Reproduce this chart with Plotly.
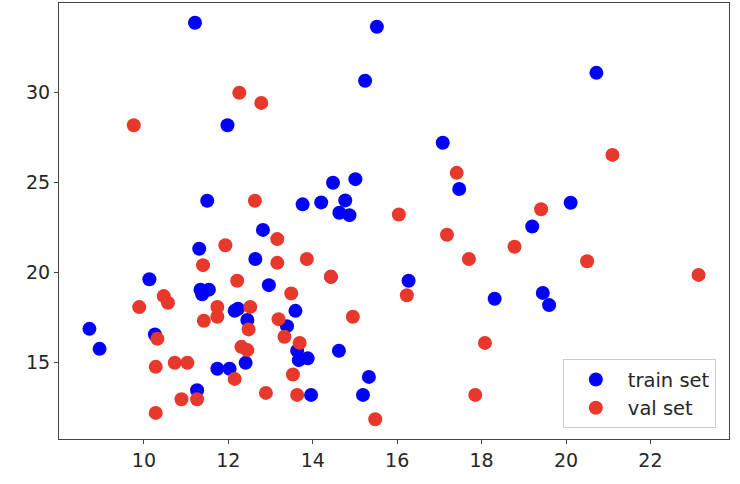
import plotly.graph_objects as go

# train set (blue)
train_x = [11.21, 15.52, 15.24, 20.72, 11.98, 17.08, 14.48, 15.01, 17.47, 11.50,
           13.76, 14.20, 14.77, 14.63, 14.87, 20.11, 19.20, 12.82, 11.31, 12.64,
           14.43, 16.27, 10.13, 12.96, 11.34, 11.54, 11.38, 19.45, 19.60, 18.31,
           12.15, 12.23, 13.59, 12.45, 13.39, 8.71, 10.26, 8.95, 14.62, 13.63,
           13.88, 13.67, 12.41, 11.74, 12.03, 15.33, 11.26, 13.96, 15.19]
train_y = [33.89, 33.67, 30.67, 31.11, 28.20, 27.22, 25.00, 25.20, 24.65, 24.00,
           23.80, 23.91, 24.02, 23.33, 23.20, 23.89, 22.57, 22.38, 21.33, 20.76,
           19.77, 19.55, 19.64, 19.31, 19.05, 19.06, 18.80, 18.88, 18.20, 18.55,
           17.88, 18.00, 17.88, 17.37, 17.03, 16.88, 16.57, 15.77, 15.66, 15.66,
           15.24, 15.14, 14.99, 14.66, 14.66, 14.21, 13.47, 13.21, 13.21]

# val set (red)
val_x = [12.26, 12.78, 9.76, 12.63, 17.41, 21.10, 19.41, 16.04, 17.18, 18.78,
         13.16, 11.93, 13.16, 11.40, 20.50, 17.70, 13.86, 14.43, 23.14, 12.21,
         16.23, 13.49, 10.47, 10.57, 9.89, 11.74, 12.52, 11.74, 14.95, 11.42,
         13.19, 12.48, 13.33, 10.32, 13.69, 18.08, 12.31, 12.45, 10.28, 10.73,
         11.03, 13.53, 12.15, 12.89, 13.63, 17.85, 11.26, 10.89, 10.28, 15.48]
val_y = [30.00, 29.44, 28.20, 24.00, 25.55, 26.55, 23.53, 23.24, 22.11, 21.44,
         21.87, 21.53, 20.55, 20.42, 20.64, 20.76, 20.76, 19.77, 19.88, 19.55,
         18.75, 18.85, 18.70, 18.33, 18.09, 18.10, 18.10, 17.55, 17.55, 17.33,
         17.42, 16.85, 16.44, 16.33, 16.10, 16.10, 15.88, 15.70, 14.77, 15.00,
         15.00, 14.34, 14.10, 13.32, 13.21, 13.21, 12.97, 12.97, 12.21, 11.86]

x_ticks = [10, 12, 14, 16, 18, 20, 22]
y_ticks = [15, 20, 25, 30]

all_x = train_x + val_x
all_y = train_y + val_y
xmin, xmax = min(all_x), max(all_x)
ymin, ymax = min(all_y), max(all_y)
xpad = 0.05 * (xmax - xmin)
ypad = 0.05 * (ymax - ymin)

FONT = "DejaVu Sans"
TXT = "#262626"

fig = go.Figure()
fig.add_trace(go.Scatter(x=train_x, y=train_y, mode="markers", name="train set",
                         marker=dict(color="#0000ff", size=14, line=dict(width=0))))
fig.add_trace(go.Scatter(x=val_x, y=val_y, mode="markers", name="val set",
                         marker=dict(color="#e8382b", size=14, line=dict(width=0))))

axis_common = dict(showgrid=False, zeroline=False, showline=True, mirror=True,
                   linecolor="#444444", linewidth=1, ticks="outside", ticklen=4,
                   tickcolor="#444444", tickwidth=1,
                   tickfont=dict(family=FONT, size=19, color=TXT))

fig.update_xaxes(range=[xmin - xpad, xmax + xpad], tickvals=x_ticks,
                 ticktext=[str(v) for v in x_ticks], **axis_common)
fig.update_yaxes(range=[ymin - ypad, ymax + ypad], tickvals=y_ticks,
                 ticktext=[str(v) for v in y_ticks], **axis_common)

fig.update_layout(
    width=740, height=484,
    margin=dict(l=59, r=11, t=3, b=45),
    plot_bgcolor="white", paper_bgcolor="white",
    font=dict(family=FONT, size=19, color=TXT),
    legend=dict(x=0.752, y=0.0246, xanchor="left", yanchor="bottom",
                bgcolor="rgba(255,255,255,0.8)", bordercolor="#cccccc", borderwidth=1,
                font=dict(family=FONT, size=19.5, color=TXT), itemwidth=54),
    showlegend=True,
)

fig.write_html("out.html", config={"displayModeBar": False},
               post_script="document.body.style.margin='0';document.body.style.overflow='hidden';")
